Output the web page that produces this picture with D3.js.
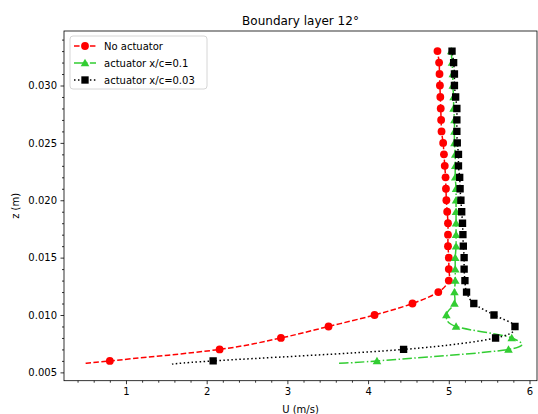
<!DOCTYPE html>
<html>
<head>
<meta charset="utf-8">
<script src="https://cdn.jsdelivr.net/npm/d3@7"></script>
<style>
  html, body { margin: 0; padding: 0; background: #fff; }
  svg { display: block; font-family: "DejaVu Sans", sans-serif; }
</style>
</head>
<body>
<svg id="chart" width="538" height="414"></svg>
<script>
// Measurement heights (m) at which the velocity was sampled
const zLevels = [0.006, 0.007, 0.008, 0.009, 0.010, 0.011, 0.012, 0.013, 0.014, 0.015,
                 0.016, 0.017, 0.018, 0.019, 0.020, 0.021, 0.022, 0.023, 0.024, 0.025,
                 0.026, 0.027, 0.028, 0.029, 0.030, 0.031, 0.032, 0.033];

// Streamwise velocity U (m/s) at each height
const uNoActuator = [0.80, 2.16, 2.92, 3.51, 4.08, 4.55, 4.87, 5.00, 5.00, 5.00,
                     4.99, 4.99, 4.99, 4.98, 4.97, 4.965, 4.96, 4.95, 4.94, 4.93,
                     4.91, 4.905, 4.90, 4.895, 4.89, 4.885, 4.88, 4.86];
const uAct01 = [4.11, 5.74, 5.78, 5.09, 4.97, 5.07, 5.07, 5.08, 5.08, 5.08,
                5.09, 5.09, 5.09, 5.09, 5.09, 5.09, 5.08, 5.08, 5.08, 5.07,
                5.07, 5.07, 5.06, 5.06, 5.05, 5.05, 5.04, 5.03];
const uAct003 = [2.08, 4.44, 5.58, 5.82, 5.56, 5.31, 5.22, 5.20, 5.19, 5.19,
                 5.18, 5.175, 5.17, 5.16, 5.15, 5.14, 5.135, 5.12, 5.12, 5.105,
                 5.10, 5.10, 5.10, 5.085, 5.07, 5.07, 5.06, 5.04];

// Near-wall end of each fitted profile curve [U, z]
const wallNoActuator = [0.50, 0.00579];
const wallAct01 = [3.64, 0.00580];
const wallAct003 = [1.57, 0.00572];

const seriesNames = ["No actuator", "actuator x/c=0.1", "actuator x/c=0.03"];
const xTicks = [1, 2, 3, 4, 5, 6];
const yTicks = [0.005, 0.010, 0.015, 0.020, 0.025, 0.030];

const plot = { left: 64, right: 537, top: 31, bottom: 380.7 };

const x = d3.scaleLinear().domain([0.232, 6.093]).range([plot.left, plot.right]);
const y = d3.scaleLinear().domain([0.004275, 0.03475]).range([plot.bottom, plot.top]);

const svg = d3.select("#chart");

const series = [
  { name: seriesNames[0], u: uNoActuator, wall: wallNoActuator, color: "#ff0000",
    dash: "5.55,2.4", marker: d3.symbolCircle, size: 48 },
  { name: seriesNames[1], u: uAct01, wall: wallAct01, color: "#32cd32",
    dash: "9.6,2.4,1.5,2.4", marker: d3.symbolTriangle, size: 32 },
  { name: seriesNames[2], u: uAct003, wall: wallAct003, color: "#000000",
    dash: "1.5,2.475", marker: d3.symbolSquare, size: 54 }
];

svg.append("defs").append("clipPath").attr("id", "plotclip")
  .append("rect")
  .attr("x", plot.left).attr("y", plot.top)
  .attr("width", plot.right - plot.left).attr("height", plot.bottom - plot.top);

// Smooth profile through the measured points
const line = d3.line()
  .x(d => x(d[0]))
  .y(d => y(d[1]))
  .curve(d3.curveCatmullRom.alpha(0));

const dataG = svg.append("g").attr("clip-path", "url(#plotclip)");

series.forEach(s => {
  const pts = zLevels.map((z, i) => [s.u[i], z]);
  dataG.append("path")
    .attr("d", line([s.wall].concat(pts)))
    .attr("fill", "none")
    .attr("stroke", s.color)
    .attr("stroke-width", 1.5)
    .attr("stroke-dasharray", s.dash);
  dataG.selectAll(null).data(pts).enter().append("path")
    .attr("d", d3.symbol().type(s.marker).size(s.size))
    .attr("transform", d => {
      const dy = s.marker === d3.symbolTriangle ? 0.8 : 0;
      return `translate(${x(d[0])},${y(d[1]) + dy})`;
    })
    .attr("fill", s.color);
});

// Axes
const xAxis = d3.axisBottom(x).tickValues(xTicks).tickFormat(d3.format("d"))
  .tickSize(3.5).tickPadding(3.5);
const xMinor = d3.axisBottom(x).tickValues(d3.range(0.4, 6.01, 0.2)
  .filter(v => Math.abs(v - Math.round(v)) > 1e-6)).tickSize(2).tickFormat("");
const yAxis = d3.axisLeft(y).tickValues(yTicks).tickFormat(d3.format(".3f"))
  .tickSize(3.5).tickPadding(3.5);
const yMinor = d3.axisLeft(y).tickValues(d3.range(0.005, 0.0345, 0.001)
  .filter(v => Math.abs(v / 0.005 - Math.round(v / 0.005)) > 1e-6)).tickSize(2).tickFormat("");

function styleAxis(g) {
  g.select(".domain").remove();
  g.selectAll(".tick line").attr("stroke", "#000").attr("stroke-width", 0.8);
  g.selectAll(".tick text").attr("fill", "#000").attr("font-size", 10)
    .attr("font-family", "DejaVu Sans, sans-serif");
}

svg.append("g").attr("transform", `translate(0,${plot.bottom})`).call(xMinor).call(styleAxis);
svg.append("g").attr("transform", `translate(0,${plot.bottom})`).call(xAxis).call(styleAxis);
svg.append("g").attr("transform", `translate(${plot.left},0)`).call(yMinor).call(styleAxis);
svg.append("g").attr("transform", `translate(${plot.left},0)`).call(yAxis).call(styleAxis);

// Frame
svg.append("rect")
  .attr("x", plot.left).attr("y", plot.top)
  .attr("width", plot.right - plot.left).attr("height", plot.bottom - plot.top)
  .attr("fill", "none").attr("stroke", "#000").attr("stroke-width", 0.8);

// Title and axis labels
svg.append("text")
  .attr("x", (plot.left + plot.right) / 2).attr("y", 25)
  .attr("text-anchor", "middle").attr("font-size", 12).attr("fill", "#000")
  .text("Boundary layer 12°");
svg.append("text")
  .attr("x", (plot.left + plot.right) / 2).attr("y", 413)
  .attr("text-anchor", "middle").attr("font-size", 10).attr("fill", "#000")
  .text("U (m/s)");
svg.append("text")
  .attr("transform", `translate(19,${(plot.top + plot.bottom) / 2}) rotate(-90)`)
  .attr("text-anchor", "middle").attr("font-size", 10).attr("fill", "#000")
  .text("z (m)");

// Legend
const legend = svg.append("g");
legend.append("rect")
  .attr("x", 70).attr("y", 36).attr("width", 137).attr("height", 53)
  .attr("rx", 3).attr("fill", "#fff").attr("fill-opacity", 0.8)
  .attr("stroke", "#cccccc").attr("stroke-width", 0.8);
series.forEach((s, i) => {
  const cy = 46 + i * 17;
  legend.append("line")
    .attr("x1", 74).attr("x2", 96).attr("y1", cy).attr("y2", cy)
    .attr("stroke", s.color).attr("stroke-width", 1.5)
    .attr("stroke-dasharray", s.dash);
  legend.append("path")
    .attr("d", d3.symbol().type(s.marker).size(s.size))
    .attr("transform", `translate(85,${cy + (s.marker === d3.symbolTriangle ? 0.8 : 0)})`)
    .attr("fill", s.color);
  legend.append("text")
    .attr("x", 104).attr("y", cy + 3.6)
    .attr("font-size", 10).attr("fill", "#000")
    .text(s.name);
});
</script>
</body>
</html>
